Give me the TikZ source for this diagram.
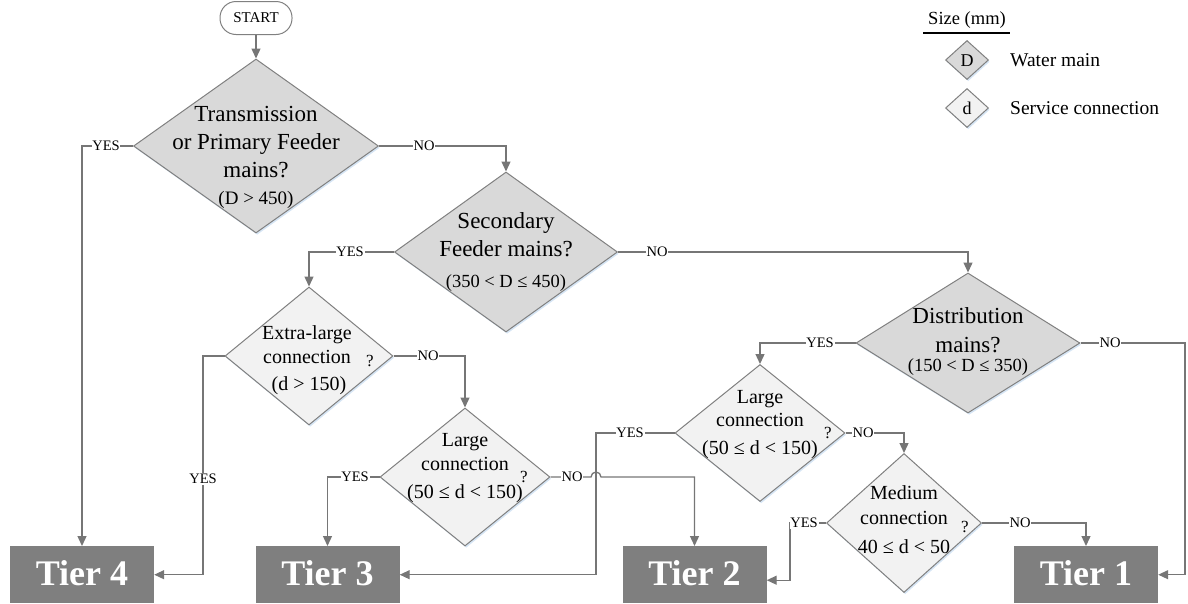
\documentclass[tikz,border=0pt]{standalone}
\usepackage{fontspec}
\setmainfont{LiberationSerif}[Extension=.ttf, UprightFont=*-Regular, BoldFont=*-Bold, ItalicFont=*-Italic, BoldItalicFont=*-BoldItalic]
\usetikzlibrary{shapes.geometric,arrows.meta,shadows,calc}

\definecolor{lineclr}{RGB}{118,118,118}
\definecolor{edgeclr}{RGB}{128,128,128}
\definecolor{darkfill}{RGB}{217,217,217}
\definecolor{lightfill}{RGB}{242,242,242}
\definecolor{tierclr}{RGB}{127,127,127}
\definecolor{shadowblue}{RGB}{196,218,240}

\newcommand{\fsz}[1]{\fontsize{#1}{#1}\selectfont}

\begin{document}
\begin{tikzpicture}[x=1pt,y=-1pt,
  qbase/.style={diamond, draw=edgeclr, line width=1pt, inner sep=0pt,
    drop shadow={shadow xshift=1.2pt, shadow yshift=-1.8pt, fill=shadowblue, opacity=0.7}},
  mainq/.style={qbase, fill=darkfill},
  conq/.style={qbase, fill=lightfill},
  conn/.style={draw=lineclr, line width=1.3pt, -{Triangle[length=10pt,width=9pt]}},
  lbl/.style={fill=white, inner sep=0.8pt, font=\fsz{14.5}},
  txt/.style={anchor=base, inner sep=0pt},
  tier/.style={rectangle, fill=tierclr, minimum width=144pt, minimum height=57pt, inner sep=0pt, anchor=north},
  tiertxt/.style={txt, text=white, font=\fsz{36}\bfseries},
]
\useasboundingbox (0,0) rectangle (1188,603);

% start terminal
\node[draw=edgeclr, line width=1pt, rounded corners=16pt, minimum width=72pt, minimum height=33pt, inner sep=0pt, font=\fsz{15}] (start) at (256,18) {START};

% decision diamonds
\node[mainq, minimum width=245pt, minimum height=174pt] (d1) at (256,146) {};
\node[mainq, minimum width=223pt, minimum height=160pt] (d2) at (506,252) {};
\node[mainq, minimum width=224pt, minimum height=140pt] (dist) at (968,343) {};
\node[conq, minimum width=168pt, minimum height=138pt] (xl) at (309,356) {};
\node[conq, minimum width=170pt, minimum height=138pt] (lg1) at (465,477) {};
\node[conq, minimum width=170pt, minimum height=137pt] (lg2) at (760,433) {};
\node[conq, minimum width=155pt, minimum height=139pt] (md) at (904,523) {};

% diamond texts
\node[txt, font=\fsz{23}] (d1a) at (256,121) {Transmission};
\node[txt, font=\fsz{23}] (d1b) at (256,149) {or Primary Feeder};
\node[txt, font=\fsz{23}] (d1c) at (256,177) {mains?};
\node[txt, font=\fsz{19}] (d1d) at (256,204) {(D > 450)};

\node[txt, font=\fsz{23}] (d2a) at (506,228) {Secondary};
\node[txt, font=\fsz{23}] (d2b) at (506,256) {Feeder mains?};
\node[txt, font=\fsz{18.5}] (d2c) at (506,287) {(350 < D ≤  450)};

\node[txt, font=\fsz{23}] (dista) at (968,323) {Distribution};
\node[txt, font=\fsz{23}] (distb) at (968,352) {mains?};
\node[txt, font=\fsz{18.5}] (distc) at (968,371) {(150 < D ≤  350)};

\node[txt, font=\fsz{20}] (xla) at (307,339) {Extra-large};
\node[txt, font=\fsz{20}] (xlb) at (307,363) {connection};
\node[txt, font=\fsz{17}] (xlq) at (370,366) {?};
\node[txt, font=\fsz{20}] (xlc) at (309,390) {(d > 150)};

\node[txt, font=\fsz{20}] (lg1a) at (465,446) {Large};
\node[txt, font=\fsz{20}] (lg1b) at (465,470) {connection};
\node[txt, font=\fsz{17}] (lg1q) at (524,482) {?};
\node[txt, font=\fsz{20}] (lg1c) at (465,498) {(50 ≤ d < 150)};

\node[txt, font=\fsz{20}] (lg2a) at (760,403) {Large};
\node[txt, font=\fsz{20}] (lg2b) at (760,426) {connection};
\node[txt, font=\fsz{17}] (lg2q) at (828,438) {?};
\node[txt, font=\fsz{20}] (lg2c) at (760,454) {(50 ≤ d < 150)};

\node[txt, font=\fsz{20}] (mda) at (904,499) {Medium};
\node[txt, font=\fsz{20}] (mdb) at (904,524) {connection};
\node[txt, font=\fsz{17}] (mdq) at (965,532) {?};
\node[txt, font=\fsz{20}] (mdc) at (904,553) {40 ≤ d < 50};

% tiers
\node[tier] (t4) at (82,546) {};
\node[tier] (t3) at (327.5,546) {};
\node[tier] (t2) at (694.5,546) {};
\node[tier] (t1) at (1086,546) {};
\node[tiertxt] (t4txt) at (82,585) {Tier 4};
\node[tiertxt] (t3txt) at (327.5,585) {Tier 3};
\node[tiertxt] (t2txt) at (694.5,585) {Tier 2};
\node[tiertxt] (t1txt) at (1086,585) {Tier 1};

% bend points
\coordinate (xlbend) at (203,356);
\coordinate (hopin) at (591,477);
\coordinate (lg2bend) at (596,433);
\coordinate (mdbend) at (790,523);
\coordinate (t2in) at ($(t2.east)+(0,5.5)$);
\coordinate (distbend) at (1185,343);

% connectors
\draw[conn] (start.south) -- (d1.north);
\draw[conn] (d1.west) -| (t4.north);
\draw[conn] (d1.east) -| (d2.north);
\draw[conn] (d2.west) -| (xl.north);
\draw[conn] (d2.east) -| (dist.north);
\draw[conn] (xl.west) -- (xlbend) |- (t4.east);
\draw[conn] (xl.east) -| (lg1.north);
\draw[conn] (lg1.west) -| (t3.north);
\draw[conn] (lg1.east) -- (hopin) arc[start angle=180, end angle=360, radius=5] -| (t2.north);
\draw[conn] (lg2.west) -- (lg2bend) |- (t3.east);
\draw[conn] (dist.west) -| (lg2.north);
\draw[conn] (dist.east) -- (distbend) |- (t1.east);
\draw[conn] (lg2.east) -| (md.north);
\draw[conn] (md.west) -- (mdbend) |- (t2in);
\draw[conn] (md.east) -| (t1.north);

% branch labels
\node[lbl] (l1) at (106,146) {YES};
\node[lbl] (l2) at (424,146) {NO};
\node[lbl] (l3) at (350,252) {YES};
\node[lbl] (l4) at (657,252) {NO};
\node[lbl] (l5) at (203,479) {YES};
\node[lbl] (l6) at (428,356) {NO};
\node[lbl] (l7) at (355,477) {YES};
\node[lbl] (l8) at (572,477) {NO};
\node[lbl] (l9) at (630,433) {YES};
\node[lbl] (l10) at (863,433) {NO};
\node[lbl] (l11) at (820,343) {YES};
\node[lbl] (l12) at (1110,343) {NO};
\node[lbl] (l13) at (804,523) {YES};
\node[lbl] (l14) at (1020,523) {NO};

% legend
\node[txt, font=\fsz{18.5}] (lgtitle) at (967,24) {Size (mm)};
\draw[line width=2.5pt] (923,33) -- (1010,33);
\node[mainq, minimum width=43pt, minimum height=39pt] (lgD) at (967,60) {};
\node[conq, minimum width=43pt, minimum height=39pt] (lgd) at (967,108) {};
\node[txt, font=\fsz{18}] (lgDt) at (967,66) {D};
\node[txt, font=\fsz{18}] (lgdt) at (967,114) {d};
\node[txt, anchor=base west, font=\fsz{19.5}] (lgw) at (1010,66) {Water main};
\node[txt, anchor=base west, font=\fsz{19.5}] (lgs) at (1010,114) {Service connection};
\end{tikzpicture}
\end{document}
